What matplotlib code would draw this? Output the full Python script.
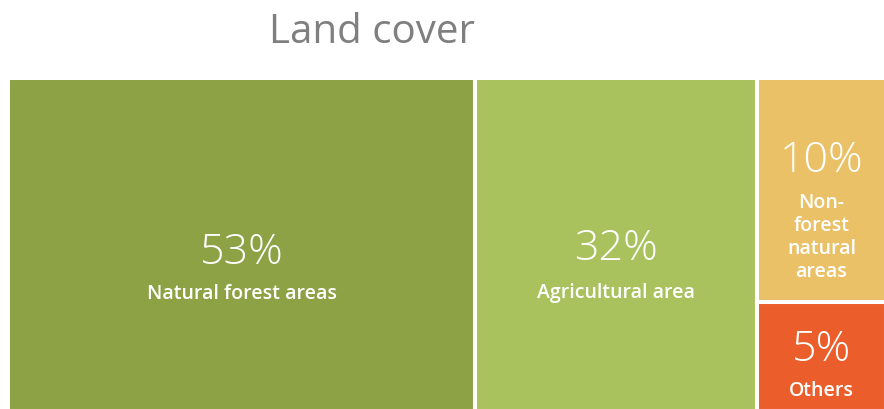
import matplotlib
matplotlib.use("Agg")
import matplotlib.pyplot as plt
from matplotlib.patches import Rectangle

categories = ["Natural forest areas", "Agricultural area", "Non-\nforest\nnatural\nareas", "Others"]
values = [53.2, 32.1, 9.9, 4.8]
pct_labels = ["53%", "32%", "10%", "5%"]
colors = ["#8CA244", "#A9C25E", "#EAC166", "#EB5E2B"]

W, H = 884, 410
fig = plt.figure(figsize=(W / 100, H / 100), dpi=100)
fig.patch.set_facecolor("white")

x0, x1, y0, y1 = 8, 886, 78.5, 412
ax = fig.add_axes([x0 / W, 1 - y1 / H, (x1 - x0) / W, (y1 - y0) / H])
total = float(sum(values))
ax.set_xlim(0, total)
ax.set_ylim(0, 1)
ax.axis("off")

rects = []
x = 0.0
for v in values[:2]:
    rects.append((x, 0.0, v, 1.0))
    x += v
rest = values[2:]
rest_w = sum(rest)
ytop = 1.0
for v in rest:
    h = v / rest_w
    rects.append((x, ytop - h, rest_w, h))
    ytop -= h

pct_dy = [7, 4, -30, -8]
lab_dy = [49, 48, 47, 33]

for (rx, ry, rw, rh), c, p, lab, d1, d2 in zip(rects, colors, pct_labels, categories, pct_dy, lab_dy):
    ax.add_patch(Rectangle((rx, ry), rw, rh, facecolor=c, edgecolor="white", linewidth=2.9))
    cx, cy = rx + rw / 2, ry + rh / 2
    ax.annotate(p, xy=(cx, cy), xytext=(0, -d1), textcoords="offset pixels",
                ha="center", va="center", color="white", fontsize=31,
                fontfamily="Open Sans", fontweight="light")
    ax.annotate(lab, xy=(cx, cy), xytext=(0, -d2), textcoords="offset pixels",
                ha="center", va="center", color="white", fontsize=14,
                fontfamily="Open Sans", fontweight="semibold", linespacing=1.2)

fig.text(372 / W, 1 - 33 / H, "Land cover", ha="center", va="center",
         fontsize=29, color="#7F7F7F", fontfamily="Open Sans")

fig.savefig("out.png", dpi=100, facecolor="white")
